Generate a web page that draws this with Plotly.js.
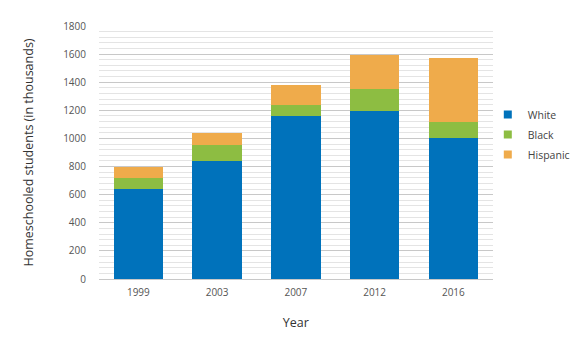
<!DOCTYPE html>
<html>
<head>
<meta charset="utf-8">
<script src="https://cdn.plot.ly/plotly-3.0.1.min.js"></script>
<style>html,body{margin:0;padding:0;background:#fff;}#chart{width:578px;height:339px;}</style>
</head>
<body>
<div id="chart"></div>
<script>
const years = ['1999', '2003', '2007', '2012', '2016'];
const white = [640, 840, 1160, 1195, 1000];
const black = [78, 116, 80, 160, 116];
const hispanic = [78, 80, 140, 242, 458];
const seriesNames = ['White', 'Black', 'Hispanic'];
const seriesColors = ['#0072bb', '#8dbd42', '#efab4b'];
const yTicks = [0, 200, 400, 600, 800, 1000, 1200, 1400, 1600, 1800];

const font = "'Open Sans', sans-serif";
const seriesData = [white, black, hispanic];

const traces = seriesData.map((vals, i) => ({
  type: 'bar', x: years, y: vals, name: seriesNames[i],
  marker: {color: seriesColors[i], line: {width: 0}},
  showlegend: false, hoverinfo: 'y'
}));
seriesData.forEach((vals, i) => {
  traces.push({
    type: 'scatter', mode: 'markers', x: [null], y: [null], name: seriesNames[i],
    marker: {symbol: 'square', size: 8, color: seriesColors[i]},
    legendgroup: 'g' + i, showlegend: true
  });
});

const layout = {
  width: 578, height: 339,
  margin: {l: 99, r: 10, t: 26, b: 60, autoexpand: false},
  barmode: 'stack', bargap: 0.37,
  paper_bgcolor: '#fff', plot_bgcolor: '#fff',
  font: {family: font, color: '#555', size: 10},
  showlegend: true,
  legend: {x: 0.829, y: 0.571, yanchor: 'middle', xanchor: 'left', bgcolor: 'rgba(0,0,0,0)',
    font: {family: font, size: 10.5, color: '#444'}, tracegroupgap: 1},
  xaxis: {
    domain: [0, 0.8395],
    type: 'category', showgrid: false, zeroline: false, showline: false,
    ticks: '', tickfont: {size: 10, color: '#555'}, ticklabelstandoff: 6,
    title: {text: 'Year', font: {size: 12.5, color: '#333'}, standoff: 20}
  },
  yaxis: {
    range: [0, 1800], tickvals: yTicks, ticktext: yTicks.map(String),
    showgrid: true, gridcolor: '#c8c8c8', gridwidth: 1,
    zeroline: true, zerolinecolor: '#c8c8c8', zerolinewidth: 1,
    minor: {dtick: 40, showgrid: true, gridcolor: '#e4e4e4', gridwidth: 1},
    ticks: '', tickfont: {size: 10, color: '#555'}, ticklabelstandoff: 12,
    title: {text: 'Homeschooled students (in thousands)', font: {size: 12.5, color: '#333'}, standoff: 26}
  }
};
Plotly.newPlot('chart', traces, layout, {displayModeBar: false, staticPlot: true});
</script>
</body>
</html>
